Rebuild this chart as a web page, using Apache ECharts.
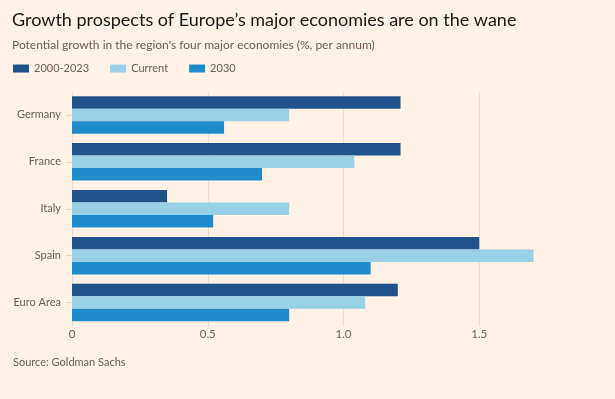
<!DOCTYPE html>
<html>
<head>
<meta charset="utf-8">
<script src="https://cdn.jsdelivr.net/npm/echarts@6/dist/echarts.min.js"></script>
<style>
html,body{margin:0;padding:0;background:#fff1e5;}
#chart{width:615px;height:399px;}
</style>
</head>
<body>
<div id="chart"></div>
<script>
const categories = ["Germany", "France", "Italy", "Spain", "Euro Area"];
const seriesNames = ["2000-2023", "Current", "2030"];
const hist = [1.21, 1.21, 0.35, 1.50, 1.20];
const current = [0.80, 1.04, 0.80, 1.70, 1.08];
const y2030 = [0.56, 0.70, 0.52, 1.10, 0.80];
const tickLabels = ["0", "0.5", "1.0", "1.5"];
const colors = ["#1f528a", "#97d0e7", "#1e8bcb"];

const chart = echarts.init(document.getElementById('chart'));
const values = [hist, current, y2030];
const FONT = 'Lato';
chart.setOption({
  backgroundColor: '#fff1e5',
  animation: false,
  textStyle: { fontFamily: FONT },
  title: [
    { text: "Growth prospects of Europe\u2019s major economies are on the wane", left: 7, top: 6,
      textStyle: { fontSize: 18, fontWeight: 'normal', color: '#1a1817', fontFamily: FONT } },
    { text: "Potential growth in the region's four major economies (%, per annum)", left: 7, top: 34,
      textStyle: { fontSize: 12, fontWeight: 'normal', color: '#66605c', fontFamily: FONT } }
    ,
    { text: "Source: Goldman Sachs", left: 8, top: 352,
      textStyle: { fontSize: 11, fontWeight: 'normal', color: '#66605c', fontFamily: FONT } }
  ],
  legend: {
    left: 8, top: 58, itemWidth: 16, itemHeight: 8, itemGap: 21,
    icon: 'rect',
    textStyle: { fontSize: 11, color: '#66605c', fontFamily: FONT },
    data: seriesNames
  },
  grid: { left: 72, right: -1, top: 91.5, bottom: 73 },
  xAxis: {
    type: 'value', min: 0, max: 2, interval: 0.5,
    axisLine: { show: false }, axisTick: { show: false },
    splitLine: { lineStyle: { color: '#ebdfd4', width: 1 } },
    axisLabel: {
      showMaxLabel: false, color: '#66605c', fontSize: 11.5, margin: 2,
      formatter: function (v) { const i = Math.round(v / 0.5); return tickLabels[i] !== undefined ? tickLabels[i] : ''; }
    }
  },
  yAxis: {
    type: 'category', data: categories, inverse: true,
    axisLine: { show: false },
    axisTick: { show: true, alignWithLabel: true, length: 6, lineStyle: { color: '#e0d3c8' } },
    axisLabel: { color: '#66605c', fontSize: 11, margin: 11 }
  },
  series: seriesNames.map((n, i) => ({
    name: n, type: 'bar', data: values[i],
    itemStyle: { color: colors[i] },
    barWidth: 12.5, barGap: '0%', barCategoryGap: '20%'
  }))
});
</script>
</body>
</html>
